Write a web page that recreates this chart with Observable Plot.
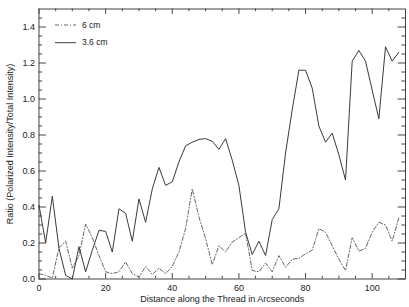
<!DOCTYPE html>
<html><head><meta charset="utf-8">
<script src="https://cdn.jsdelivr.net/npm/d3@7"></script>
<script src="https://cdn.jsdelivr.net/npm/@observablehq/plot@0.6"></script>
<style>html,body{margin:0;padding:0;background:#fff;} svg{display:block;}</style>
</head><body><div id="chart"></div>
<script>
const distance = [0,2,4,6,8,10,12,14,16,18,20,22,24,26,28,30,32,34,36,38,40,42,44,46,48,50,52,54,56,58,60,62,64,66,68,70,72,74,76,78,80,82,84,86,88,90,92,94,96,98,100,102,104,106,108];
const cm6 = [0.03,0.02,0.005,0.175,0.21,0.06,0.13,0.305,0.23,0.13,0.04,0.03,0.04,0.095,0.03,0.01,0.07,0.025,0.06,0.03,0.07,0.15,0.28,0.50,0.345,0.225,0.08,0.185,0.15,0.205,0.23,0.255,0.047,0.04,0.088,0.04,0.13,0.065,0.11,0.115,0.14,0.16,0.28,0.26,0.185,0.11,0.047,0.23,0.155,0.17,0.26,0.315,0.30,0.21,0.34];
const cm36 = [0.41,0.20,0.46,0.17,0.02,0.0,0.18,0.04,0.16,0.27,0.265,0.15,0.39,0.365,0.21,0.445,0.315,0.50,0.62,0.52,0.54,0.65,0.74,0.76,0.775,0.78,0.765,0.72,0.78,0.66,0.52,0.26,0.136,0.21,0.13,0.33,0.39,0.70,0.94,1.16,1.16,1.06,0.85,0.76,0.81,0.69,0.55,1.21,1.27,1.21,1.05,0.89,1.29,1.21,1.26];
const seriesNames = ["6 cm", "3.6 cm"];
const xTickLabels = [0,20,40,60,80,100];
const yTickLabels = [0.0,0.2,0.4,0.6,0.8,1.0,1.2,1.4];
const xMinorTicks = [5,10,15,25,30,35,45,50,55,65,70,75,85,90,95,105];
const yMinorTicks = [0.05,0.1,0.15,0.25,0.3,0.35,0.45,0.5,0.55,0.65,0.7,0.75,0.85,0.9,0.95,1.05,1.1,1.15,1.25,1.3,1.35,1.45];
const xLabel = "Distance along the Thread in Arcseconds";
const yLabel = "Ratio (Polarized Intensity/Total Intensity)";

const W = 409, H = 307, mL = 38.5, mR = 4, mT = 8.5, mB = 28.5;
const ph = H - mT - mB, pw = W - mL - mR;
const ink = "#444";
const c6 = "#666", c36 = "#3a3a3a", dash6 = "4,2,1,2";
const d6 = distance.map((d, i) => ({x: d, y: cm6[i]}));
const d36 = distance.map((d, i) => ({x: d, y: cm36[i]}));
const xt = 5.4, yt = 7.3;

const plot = Plot.plot({
  width: W, height: H,
  marginLeft: mL, marginRight: mR, marginTop: mT, marginBottom: mB,
  style: {fontFamily: "'Liberation Sans', Arial, sans-serif", fontSize: "9px", color: "#222", background: "#fff"},
  x: {domain: [0, 110]},
  y: {domain: [0, 1.5]},
  marks: [
    Plot.frame({stroke: ink}),
    Plot.tickX(xTickLabels, {x: d => d, insetTop: ph - xt, stroke: ink}),
    Plot.tickX(xTickLabels, {x: d => d, insetBottom: ph - xt, stroke: ink}),
    Plot.tickX(xMinorTicks, {x: d => d, insetTop: ph - xt / 2, stroke: ink}),
    Plot.tickX(xMinorTicks, {x: d => d, insetBottom: ph - xt / 2, stroke: ink}),
    Plot.tickY(yTickLabels, {y: d => d, insetRight: pw - yt, stroke: ink}),
    Plot.tickY(yTickLabels, {y: d => d, insetLeft: pw - yt, stroke: ink}),
    Plot.tickY(yMinorTicks, {y: d => d, insetRight: pw - yt / 2, stroke: ink}),
    Plot.tickY(yMinorTicks, {y: d => d, insetLeft: pw - yt / 2, stroke: ink}),
    Plot.axisX({ticks: xTickLabels, tickSize: 0, tickPadding: 6, tickFormat: d => String(d),
      label: xLabel, labelAnchor: "center", labelOffset: 23, labelArrow: "none"}),
    Plot.axisY({ticks: yTickLabels, tickSize: 0, tickPadding: 4, tickFormat: d => d.toFixed(1),
      label: yLabel, labelAnchor: "center", labelOffset: 32, labelArrow: "none"}),
    Plot.line(d6, {x: "x", y: "y", stroke: c6, strokeWidth: 1, strokeDasharray: dash6}),
    Plot.line(d36, {x: "x", y: "y", stroke: c36, strokeWidth: 1})
  ]
});

const svg = d3.select(plot);
const legend = svg.append("g").attr("font-family", "'Liberation Sans', Arial, sans-serif")
  .attr("font-size", "8.5px").attr("fill", "#222").attr("text-anchor", "start");
[[25, c6, dash6], [42.7, c36, null]].forEach(([ly, col, da], i) => {
  const l = legend.append("line").attr("x1", 55).attr("x2", 76).attr("y1", ly).attr("y2", ly)
    .attr("stroke", col).attr("stroke-width", 1);
  if (da) l.attr("stroke-dasharray", da);
  legend.append("text").attr("x", 82).attr("y", ly).attr("dy", "0.32em")
    .attr("text-anchor", "start").text(seriesNames[i]);
});
document.getElementById("chart").appendChild(plot);
</script>
</body></html>
